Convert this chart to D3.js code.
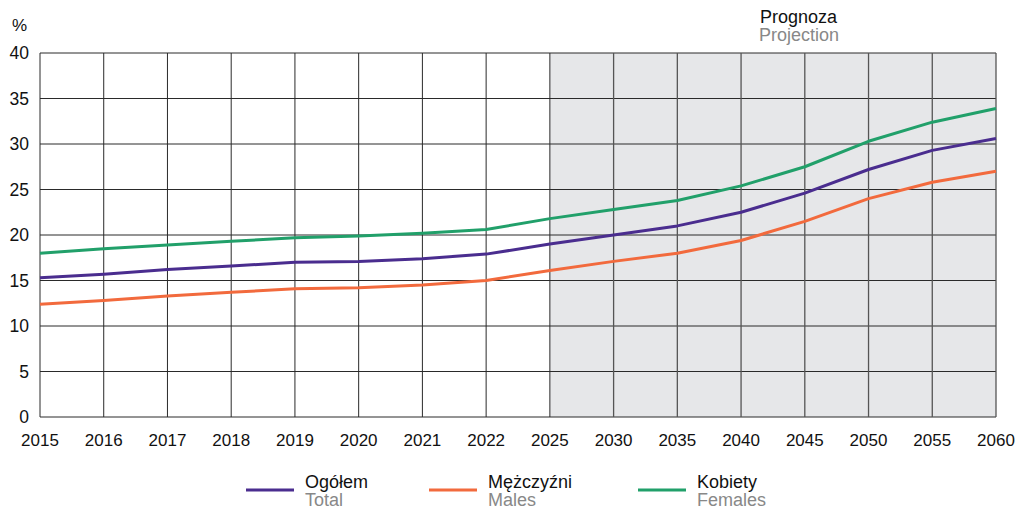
<!DOCTYPE html>
<meta charset="utf-8">
<html>
<head>
  <style>
    body { margin: 0; background: #fff; }
    text { font-family: "Liberation Sans", Arial, sans-serif; }
  </style>
</head>
<body>
  <svg id="chart" width="1021" height="510"></svg>

  <script src="https://d3js.org/d3.v7.min.js"></script>
  <script>

    // data
    var years = ["2015", "2016", "2017", "2018", "2019", "2020", "2021", "2022",
                 "2025", "2030", "2035", "2040", "2045", "2050", "2055", "2060"];
    var total   = [15.3, 15.7, 16.2, 16.6, 17.0, 17.1, 17.4, 17.9, 19.0, 20.0, 21.0, 22.5, 24.6, 27.2, 29.3, 30.6];
    var males   = [12.4, 12.8, 13.3, 13.7, 14.1, 14.2, 14.5, 15.0, 16.1, 17.1, 18.0, 19.4, 21.5, 24.0, 25.8, 27.0];
    var females = [18.0, 18.5, 18.9, 19.3, 19.7, 19.9, 20.2, 20.6, 21.8, 22.8, 23.8, 25.4, 27.5, 30.3, 32.4, 33.9];
    var yTicks = [0, 5, 10, 15, 20, 25, 30, 35, 40];
    var projectionStart = "2025";

    var series = [
      { pl: "Ogółem", en: "Total", values: total, color: "#4a2d8f" },
      { pl: "Mężczyźni", en: "Males", values: males, color: "#f26a3d" },
      { pl: "Kobiety", en: "Females", values: females, color: "#21a06a" }
    ];

    var svg = d3.select("#chart");
    var plotLeft = 40, plotRight = 996, plotTop = 53, plotBottom = 417;

    var x = d3.scalePoint().domain(years).range([plotLeft, plotRight]);
    var y = d3.scaleLinear().domain([0, 40]).range([plotBottom, plotTop]);

    // projection shading
    svg.append("rect")
      .attr("x", x(projectionStart))
      .attr("y", plotTop)
      .attr("width", plotRight - x(projectionStart))
      .attr("height", plotBottom - plotTop)
      .attr("fill", "#e6e7e9");

    // grid
    svg.append("g")
      .selectAll("line")
      .data(yTicks)
      .enter()
      .append("line")
      .attr("x1", plotLeft).attr("x2", plotRight)
      .attr("y1", function (d) { return y(d) })
      .attr("y2", function (d) { return y(d) })
      .attr("stroke", "#2a2a2a")
      .attr("stroke-width", 1);

    svg.append("g")
      .selectAll("line")
      .data(years)
      .enter()
      .append("line")
      .attr("x1", function (d) { return x(d) })
      .attr("x2", function (d) { return x(d) })
      .attr("y1", plotTop).attr("y2", plotBottom)
      .attr("stroke", function (d, i) { return i > 8 ? "#555" : "#2a2a2a" })
      .attr("stroke-width", function (d, i) { return i > 8 ? 1.3 : 1 });

    // axis labels
    svg.append("g")
      .selectAll("text")
      .data(yTicks)
      .enter()
      .append("text")
      .attr("x", 29)
      .attr("y", function (d) { return y(d) })
      .attr("dy", "0.36em")
      .attr("text-anchor", "end")
      .style("font-size", "17.5px")
      .style("fill", "#111")
      .text(function (d) { return d });

    svg.append("g")
      .selectAll("text")
      .data(years)
      .enter()
      .append("text")
      .attr("x", function (d) { return x(d) })
      .attr("y", plotBottom + 29)
      .attr("text-anchor", "middle")
      .style("font-size", "17px")
      .style("fill", "#111")
      .text(function (d) { return d });

    svg.append("text")
      .attr("x", 12).attr("y", 31)
      .style("font-size", "17px")
      .style("fill", "#111")
      .text("%");

    svg.append("text")
      .attr("x", 760).attr("y", 23)
      .style("font-size", "18px")
      .style("fill", "#111")
      .text("Prognoza");
    svg.append("text")
      .attr("x", 759).attr("y", 41)
      .style("font-size", "18px")
      .style("fill", "#888")
      .text("Projection");

    // lines
    var line = d3.line()
      .x(function (d, i) { return x(years[i]) })
      .y(function (d) { return y(d) });

    svg.append("g")
      .selectAll("path")
      .data(series)
      .enter()
      .append("path")
      .attr("d", function (d) { return line(d.values) })
      .attr("fill", "none")
      .attr("stroke", function (d) { return d.color })
      .attr("stroke-width", 3)
      .attr("stroke-linejoin", "round");

    // legend
    var legendX = [246, 429, 638];
    var legend = svg.append("g")
      .selectAll("g")
      .data(series)
      .enter()
      .append("g")
      .attr("transform", function (d, i) { return "translate(" + legendX[i] + ",0)" });

    legend.append("line")
      .attr("x1", 0).attr("x2", 48)
      .attr("y1", 490).attr("y2", 490)
      .attr("stroke", function (d) { return d.color })
      .attr("stroke-width", 3);
    legend.append("text")
      .attr("x", 59).attr("y", 488)
      .style("font-size", "18px")
      .style("fill", "#111")
      .text(function (d) { return d.pl });
    legend.append("text")
      .attr("x", 59).attr("y", 506)
      .style("font-size", "18px")
      .style("fill", "#888")
      .text(function (d) { return d.en });

  </script>
</body>
</html>
